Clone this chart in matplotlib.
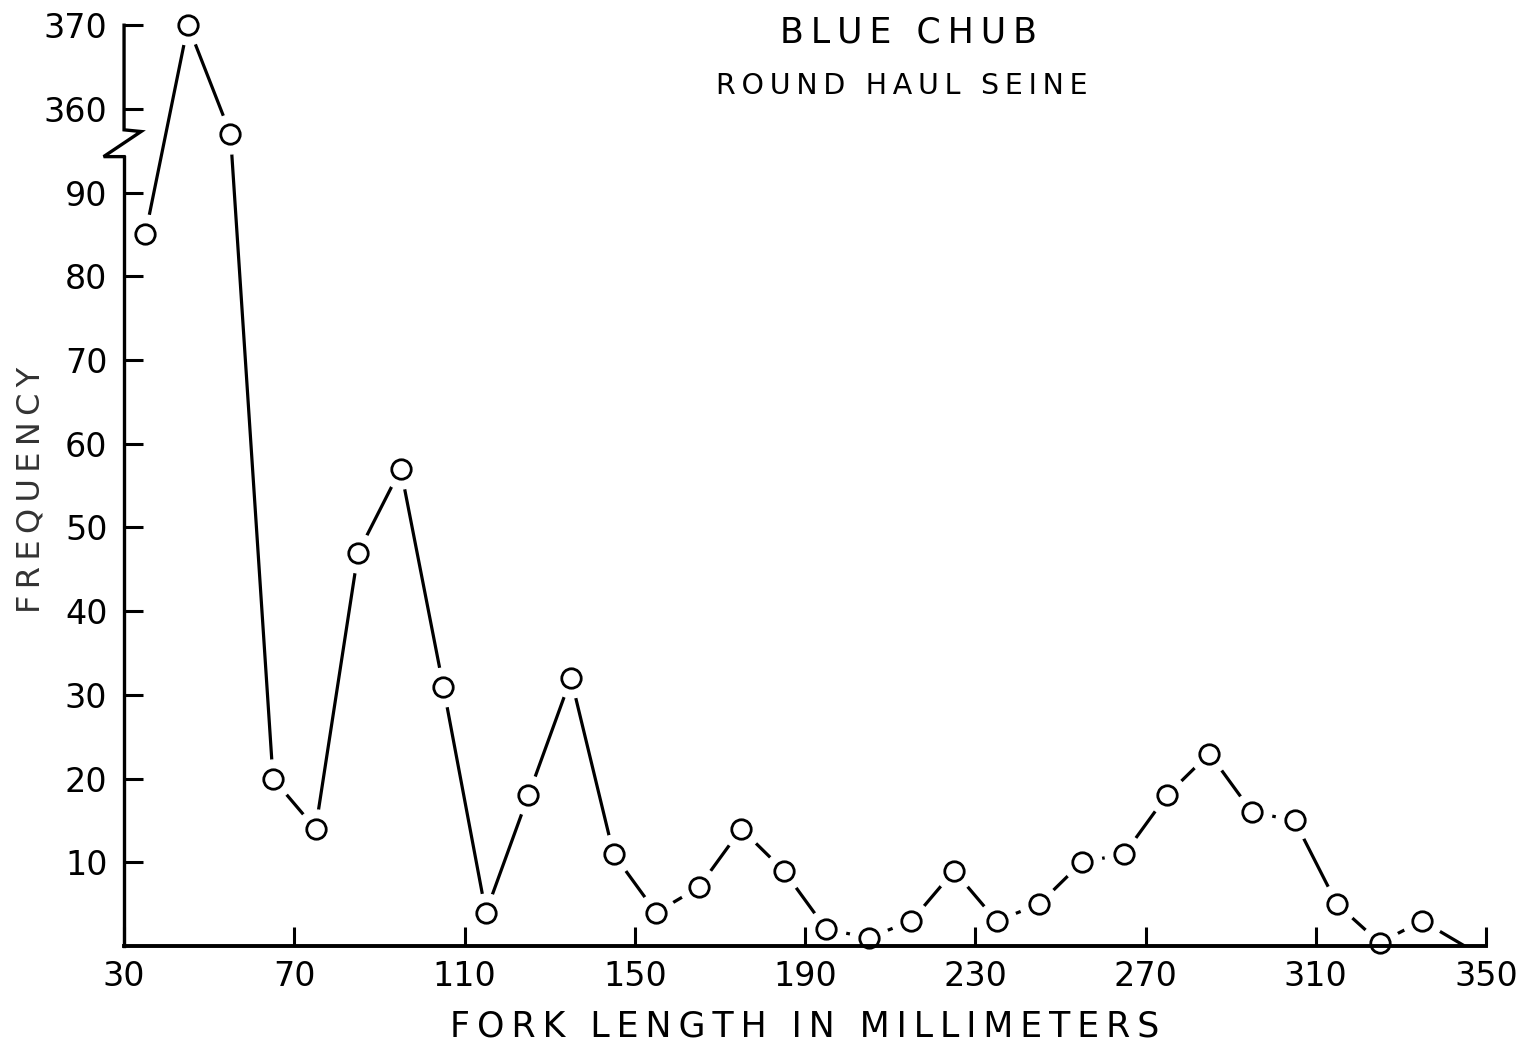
import matplotlib

matplotlib.use("Agg")

import matplotlib.pyplot as plt
import numpy as np

# midpoints of 10 mm length classes and counts
fork_length = [35, 45, 55, 65, 75, 85, 95, 105, 115, 125, 135, 145, 155, 165, 175,
               185, 195, 205, 215, 225, 235, 245, 255, 265, 275, 285, 295, 305,
               315, 325, 335]
frequency = [85, 370, 357, 20, 14, 47, 57, 31, 4, 18, 32, 11, 4, 7, 14,
             9, 2, 1, 3, 9, 3, 5, 10, 11, 18, 23, 16, 15,
             5, 0.4, 3]
# polygon closes on the axis with no marker
end_length = 345
end_frequency = 0

x_ticks = [30, 70, 110, 150, 190, 230, 270, 310, 350]
y_ticks = [10, 20, 30, 40, 50, 60, 70, 80, 90, 360, 370]

BREAK_SHIFT = 260  # counts above the break are drawn 260 lower


def to_axis(v):
    v = np.asarray(v, dtype=float)
    return np.where(v > 300, v - BREAK_SHIFT, v)


def spaced(s: str) -> str:
    # lettering on the original is widely spaced
    return "\u2009".join(s)


def main() -> None:
    plt.rcParams["font.family"] = ["DejaVu Sans"]
    fig = plt.figure(figsize=(15.24, 10.5), dpi=100)
    ax = fig.add_axes([0.0814, 0.099, 0.8937, 0.877])

    xs = list(fork_length) + [end_length]
    ys = to_axis(list(frequency) + [end_frequency])

    ax.plot(xs, ys, color="black", lw=2.3, solid_capstyle="butt", zorder=1.0)
    # white halo so the line stops short of each circle (kept under the spines)
    ax.plot(fork_length, to_axis(frequency), ls="none", marker="o", ms=28,
            mfc="white", mec="white", zorder=1.5, clip_on=False)
    ax.plot(fork_length, to_axis(frequency), ls="none", marker="o", ms=14,
            mfc="white", mec="black", mew=2.0, zorder=2.2, clip_on=False)

    ax.set_xlim(30, 350)
    ax.set_ylim(0, 110)
    ax.set_xticks(x_ticks)
    ax.set_xticklabels([str(t) for t in x_ticks])
    ax.set_yticks(to_axis(y_ticks))
    ax.set_yticklabels([str(t) for t in y_ticks])
    ax.tick_params(axis="both", direction="in", length=14, width=2.2,
                   labelsize=24, color="black")
    ax.tick_params(axis="x", pad=10)
    ax.tick_params(axis="y", pad=12)

    for side in ("top", "right"):
        ax.spines[side].set_visible(False)
    ax.spines["bottom"].set_linewidth(2.8)
    ax.spines["left"].set_linewidth(2.4)
    ax.spines["left"].set_bounds(0, 94.3)

    # upper piece of the broken axis with the zigzag
    tr = ax.get_yaxis_transform()
    ax.plot([0, 0, 0.0125, -0.015, 0], [110, 97.5, 97.3, 94.3, 94.3],
            transform=tr, color="black", lw=2.4, clip_on=False, zorder=3,
            solid_joinstyle="miter")

    ax.set_xlabel(spaced("FORK LENGTH IN MILLIMETERS"), fontsize=25, labelpad=12)
    ax.set_ylabel(spaced("FREQUENCY"), fontsize=23, color="#333333")
    ax.yaxis.set_label_coords(-0.057, 0.495)

    fig.text(0.596, 0.969, spaced("BLUE CHUB"), ha="center", va="center",
             fontsize=25)
    fig.text(0.592, 0.918, spaced("ROUND HAUL SEINE"), ha="center", va="center",
             fontsize=20.5)

    fig.savefig("out.png", dpi=100, facecolor="white")


if __name__ == "__main__":
    main()
